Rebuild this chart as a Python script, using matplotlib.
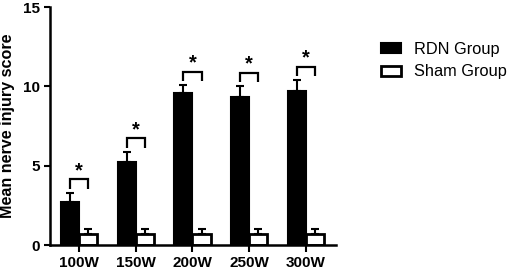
import matplotlib
matplotlib.use("Agg")
import matplotlib.pyplot as plt
import numpy as np
from matplotlib.patches import Patch

plt.rcParams['font.family'] = ['Liberation Sans', 'DejaVu Sans']

categories = ["100W", "150W", "200W", "250W", "300W"]
rdn_mean = [2.73, 5.25, 9.56, 9.35, 9.72]
rdn_err = [0.57, 0.63, 0.52, 0.65, 0.68]
sham_mean = [0.67, 0.67, 0.67, 0.67, 0.67]
sham_err = [0.33, 0.33, 0.33, 0.33, 0.33]
sig_labels = ["*", "*", "*", "*", "*"]

fig = plt.figure(figsize=(5.1, 2.72), dpi=100)
ax = fig.add_axes([0.098, 0.099, 0.561, 0.875])

x = np.arange(len(categories))
w = 0.32
ax.bar(x - w/2, rdn_mean, w, color='black', edgecolor='black', linewidth=1.5,
       yerr=[np.zeros(len(x)), rdn_err],
       error_kw=dict(ecolor='black', elinewidth=1.5, capsize=3.2, capthick=1.5),
       label='RDN Group', zorder=2)
ax.bar(x + w/2, sham_mean, w, color='white', edgecolor='black', linewidth=2,
       yerr=[np.zeros(len(x)), sham_err],
       error_kw=dict(ecolor='black', elinewidth=1.5, capsize=3.2, capthick=1.5),
       label='Sham Group', zorder=2)

for i in range(len(x)):
    top = rdn_mean[i] + rdn_err[i] + 0.85
    x1, x2 = x[i] - w/2, x[i] + w/2
    ax.plot([x1, x1, x2, x2], [top - 0.6, top, top, top - 0.6], color='black', lw=1.6,
            solid_joinstyle='miter', solid_capstyle='butt', zorder=3)
    ax.text(x[i], top + 0.2, sig_labels[i], ha='center', va='baseline',
            fontsize=14.5, fontweight='bold')

ax.set_xlim(-0.51, 4.53)
ax.set_ylim(0, 15)
ax.set_yticks([0, 5, 10, 15])
ax.set_xticks(x)
ax.set_xticklabels(categories)
for lab in ax.get_xticklabels() + ax.get_yticklabels():
    lab.set_fontweight('bold')
    lab.set_fontsize(11)
ax.tick_params(axis='y', width=1.5, length=4.3, direction='out', pad=3)
ax.tick_params(axis='x', width=1.5, length=5, direction='out', pad=3)
ax.spines['top'].set_visible(False)
ax.spines['right'].set_visible(False)
ax.spines['left'].set_linewidth(1.8)
ax.spines['bottom'].set_linewidth(1.8)
ax.set_ylabel('Mean nerve injury score', fontsize=11.6, fontweight='bold')
ax.yaxis.set_label_coords(-0.122, 0.5)

handles = [Patch(facecolor='black', edgecolor='black', linewidth=1.5),
           Patch(facecolor='white', edgecolor='black', linewidth=2)]
fig.legend(handles, ['RDN Group', 'Sham Group'], loc='upper left',
           bbox_to_anchor=(381/510, 1 - 42/272), frameon=False, fontsize=11.8,
           borderpad=0, borderaxespad=0,
           handlelength=1.25, handleheight=0.55, handletextpad=0.75, labelspacing=0.45)

fig.savefig('out.png', dpi=100)
